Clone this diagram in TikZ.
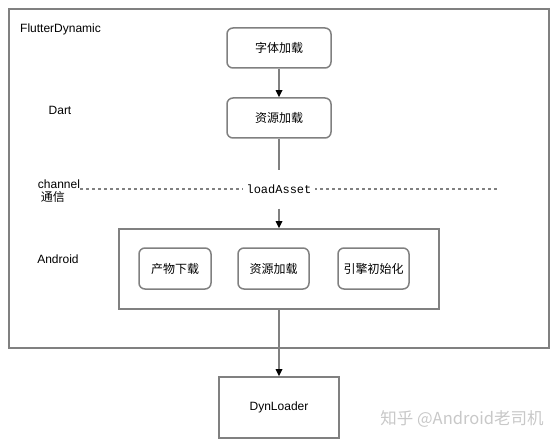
\documentclass[tikz,border=0pt]{standalone}
\usepackage{fontspec}
\setmainfont{Liberation Sans}
\setmonofont{Liberation Mono}
\newfontfamily\cjk{Noto Sans CJK SC}
\usetikzlibrary{arrows.meta}
\definecolor{linegray}{HTML}{808080}
\definecolor{markgray}{HTML}{C8C8C8}

\begin{document}
\begin{tikzpicture}[x=1pt, y=-1pt, >={Triangle[length=7pt, width=6.5pt, color=black]},
    frame/.style={draw=linegray, line width=1.7pt, inner sep=0pt},
    task/.style={draw=linegray, line width=1.5pt, rounded corners=6pt, inner sep=0pt,
                 font=\cjk\fontsize{12}{14}\selectfont},
    lbl/.style={font=\fontsize{12}{14}\selectfont, inner sep=0pt},
    conn/.style={draw=linegray, line width=1.6pt}]

  \useasboundingbox (0,0) rectangle (558,444);

  % === Outer frame (FlutterDynamic) ===
  \node[frame, minimum width=540pt, minimum height=339pt] (flutter) at (279,178.5) {};
  \node[lbl, anchor=west] (title) at (20,29) {FlutterDynamic};

  % === Dart side ===
  \node[lbl] (dart) at (60,110) {Dart};
  \node[task, minimum width=104pt, minimum height=40pt] (font) at (279,48) {字体加载};
  \node[task, minimum width=104pt, minimum height=40pt] (dres) at (279,118) {资源加载};
  \draw[conn, ->] (font) -- (dres);

  % === channel ===
  \node[lbl] (chan) at (59,184) {channel};
  \node[lbl, font=\cjk\fontsize{12}{14}\selectfont] (comm) at (53,197) {通信};
  \coordinate (cl) at (80,189);
  \coordinate (cr) at (497,189);
  \draw[linegray, line width=1.3pt, dash pattern=on 3pt off 3pt] (cl) -- (cr);
  \node[fill=white, font=\ttfamily\fontsize{12}{14}\selectfont, inner xsep=3.5pt,
        minimum height=38pt] (asset) at (279,189.5) {loadAsset};

  % === Android side ===
  \node[lbl] (droid) at (58,259) {Android};
  \node[frame, minimum width=320pt, minimum height=80pt] (android) at (279,269) {};
  \node[task, minimum width=72pt, minimum height=41pt] (fetch) at (175,268.5) {产物下载};
  \node[task, minimum width=71pt, minimum height=41pt] (ares) at (273.5,268.5) {资源加载};
  \node[task, minimum width=71pt, minimum height=41pt] (engine) at (373.5,268.5) {引擎初始化};
  \draw[conn] (dres) -- (asset);
  \draw[conn, ->] (asset) -- (android);

  % === DynLoader ===
  \node[frame, lbl, draw=linegray, line width=1.7pt, minimum width=120pt,
        minimum height=61pt] (dyn) at (279,407.5) {DynLoader};
  \draw[conn, ->] (android) -- (dyn);

  % watermark
  \node[markgray, font=\cjk\fontsize{16.5}{18}\selectfont, inner sep=0pt] (mark)
    at (462,419) {知乎 @Android老司机};

\end{tikzpicture}
\end{document}
